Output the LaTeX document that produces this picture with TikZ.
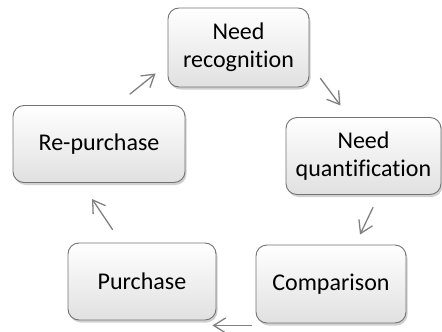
\documentclass[tikz,border=0pt]{standalone}
\usepackage{fontspec}
\setmainfont{Carlito}[Ligatures=NoCommon]
\usepackage{tikz}
\usetikzlibrary{arrows.meta,shadows}

\begin{document}
\begin{tikzpicture}[x=1pt,y=-1pt,
        stage/.style={shape=rectangle,rounded corners=11pt,draw=black!55,line width=0.9pt,
              top color=white,bottom color=black!12,align=center,inner sep=0pt,
              font=\fontsize{24}{28}\selectfont,
              drop shadow={shadow xshift=1.5pt,shadow yshift=-2.5pt,opacity=0.3,fill=black!60}},
        flow/.style={draw=black!50,line width=1.3pt,line cap=round,
              -{Straight Barb[length=12pt,width=15pt,line width=1.3pt]}}]
        \useasboundingbox (0,0) rectangle (442,332);
        \path (238.5,47.5) node (rec) [stage,minimum width=141pt,minimum height=79pt] {Need\\recognition}
              (363.5,156) node (quant) [stage,minimum width=155pt,minimum height=77pt] {Need\\quantification}
              (331,284) node (comp) [stage,minimum width=150pt,minimum height=78pt] {Comparison}
              (142,281.5) node (pur) [stage,minimum width=148pt,minimum height=77pt] {Purchase}
              (99,144) node (rep) [stage,minimum width=172pt,minimum height=77pt] {Re-purchase};
        \draw[flow] ([shift={(11pt,9pt)}]rec.south east) -- ([shift={(31pt,-18pt)}]rec.south east);
        \draw[flow] ([shift={(9.5pt,-12.5pt)}]quant.south) -- ([shift={(29pt,10pt)}]comp.north);
        \draw[flow] ([shift={(-4pt,-2pt)}]comp.south west) -- ([shift={(-4pt,-5pt)}]pur.south east);
        \draw[flow] ([shift={(45pt,13pt)}]pur.north west) -- ([shift={(-7pt,-16pt)}]rep.south);
        \draw[flow] ([shift={(31pt,11pt)}]rep.north) -- ([shift={(-12pt,14pt)}]rec.south west);
    \end{tikzpicture}
\end{document}
